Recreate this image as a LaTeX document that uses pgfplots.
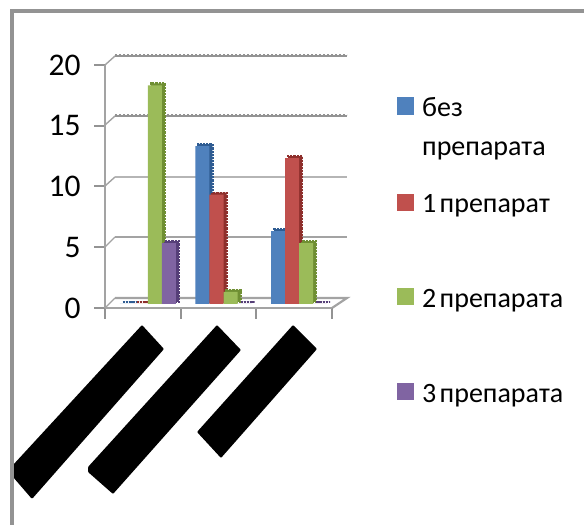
\documentclass[border=0pt]{standalone}
\usepackage{fontspec}
\setmainfont{Carlito}
\usepackage{pgfplots}
\usepackage{pgfplotstable}
\pgfplotsset{compat=1.18}
\definecolor{cA}{HTML}{4F81BD}
\definecolor{cB}{HTML}{C0504D}
\definecolor{cC}{HTML}{9BBB59}
\definecolor{cD}{HTML}{8064A2}
\definecolor{dA}{HTML}{2F5C92}
\definecolor{dB}{HTML}{8E2F2C}
\definecolor{dC}{HTML}{6F8F33}
\definecolor{dD}{HTML}{563F78}
\definecolor{gr}{HTML}{A3A3A3}
\pgfplotstableread{
cat s0 s1 s2 s3
0 0 0 18 5
1 13 9 1 0
2 6 12 5 0
}\drugdata
\newcommand\barser[4]{%
  \addplot[ybar,bar width=14pt,bar shift=#2,xshift=8pt,yshift=6pt,fill=#4,draw=#4,line width=2.2pt,densely dotted] table[x=cat,y=#1]{\drugdata};
  \addplot[ybar,bar width=14pt,bar shift=#2,xshift=5pt,yshift=4pt,fill=#3,draw=none] table[x=cat,y=#1]{\drugdata};
}
\begin{document}
\begin{tikzpicture}
\path[use as bounding box,fill=white] (0pt,0pt) rectangle (584pt,525pt);
\begin{scope}[shift={(0pt,525pt)},x=1pt,y=-1pt]
  % chart walls
  \foreach \yy/\by in {298/308,237/247,177/186,116/125,56/65}{
    \draw[gr,line width=1.4pt] (105,\by) -- (115,\yy);
  }
  \draw[gr,line width=2.2pt] (115,298) -- (347,298) -- (332,308);
  \draw[gr,line width=2.2pt] (115,237) -- (347,237);
  \draw[gr!80,line width=1.3pt] (115,177) -- (347,177);
  \draw[gr!80,line width=2.2pt,dotted] (115,177) -- (347,177);
  \draw[gr!90!black,line width=2.6pt] (115,116) -- (347,116);
  \draw[gr!90!black,line width=2pt,dotted] (115,115) -- (347,115);
  \draw[gr!90!black,line width=2.6pt] (115,56) -- (347,56);
  \draw[gr!90!black,line width=2pt,dotted] (115,55) -- (347,55);
  % redaction strokes
  \fill[black,rounded corners=1pt] (142,325) -- (164,349) -- (32,499) -- (13,477) -- (13,465) -- cycle;
  \fill[black,rounded corners=1pt] (217,325) -- (241,350) -- (113,494) -- (88,472) -- (88,467) -- cycle;
  \fill[black,rounded corners=1pt] (293,325) -- (317,349) -- (221,458) -- (197,432) -- cycle;
  % frame
  \draw[gr!90!black,line width=4pt] (11.5,525) -- (11.5,11) -- (584,11);
  % legend
  \fill[cA] (397,97) rectangle (414,115);
  \fill[cB] (397,194) rectangle (414,211);
  \fill[cC] (397,288) rectangle (414,305);
  \fill[cD] (397,383) rectangle (414,400);
  \begin{scope}[every node/.style={anchor=base west,inner sep=0pt,font=\fontsize{28}{28}\selectfont}]
  \node at (422,117) {без};
  \node at (422,156) {препарата};
  \node at (422,213) {1\hspace{0.12em}препарат};
  \node at (422,308) {2\hspace{0.12em}препарата};
  \node at (422,403) {3\hspace{0.12em}препарата};
  \end{scope}
\end{scope}
\begin{axis}[
  at={(105pt,217pt)},anchor=south west,
  scale only axis,width=227pt,height=243pt,
  xmin=-0.5,xmax=2.5,ymin=0,ymax=20,
  axis x line=bottom,axis y line=left,
  axis line style={gr,line width=2pt,-},
  clip=false,
  xtick={-0.5,0.5,1.5,2.5},xticklabels={},
  ytick={0,5,10,15,20},
  tick align=outside,
  major tick length=11pt,
  every tick/.style={gr!90!black,line width=2pt},
  tick pos=lower,
  /pgf/number format/assume math mode=true,
  yticklabel style={font=\fontsize{31.5}{31.5}\selectfont,xshift=-10pt,text=black},
]
\barser{s0}{-21pt}{cA}{dA}
\barser{s1}{-7pt}{cB}{dB}
\barser{s2}{7pt}{cC}{dC}
\barser{s3}{21pt}{cD}{dD}
\end{axis}
\end{tikzpicture}
\end{document}
